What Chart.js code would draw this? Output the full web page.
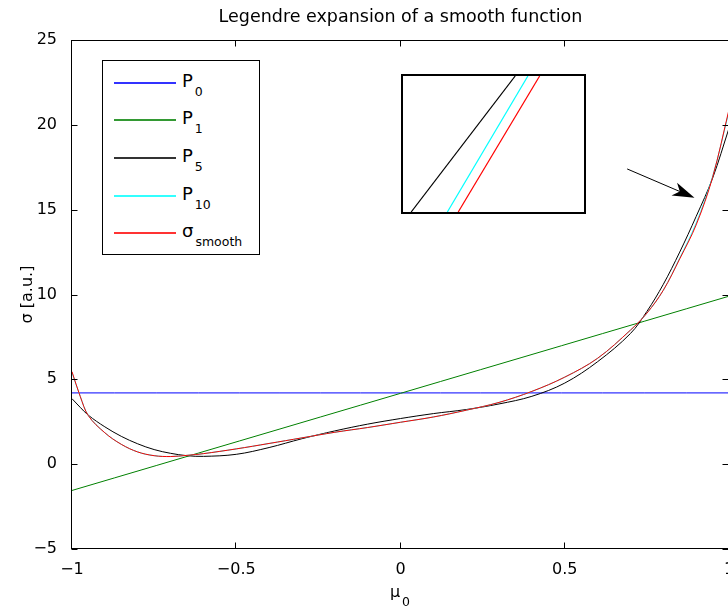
<!DOCTYPE html>
<html>
<head>
<meta charset="utf-8">
<script src="https://cdn.jsdelivr.net/npm/chart.js@4.4.1/dist/chart.umd.min.js"></script>
<style>
  html, body { margin:0; padding:0; background:#fff; }
  body { width:728px; height:612px; overflow:hidden; position:relative; font-family:"DejaVu Sans", sans-serif; color:#000; }
  #main { position:absolute; left:0; top:0; }
  #insetBox { position:absolute; left:401px; top:74px; width:181px; height:136px; border:2px solid #000; background:#fff; }
  #inset { display:block; }
  #legend { position:absolute; left:102px; top:60px; width:156px; height:193px; border:1px solid #000; background:#fff; }
  .row { position:absolute; left:0; width:100%; height:0; }
  .sample { position:absolute; left:11px; width:62px; top:-1px; height:2px; opacity:0.8; }
  .lab { position:absolute; left:79px; top:-11px; font-size:18px; line-height:18px; white-space:nowrap; }
  .s { font-size:12.5px; line-height:0; position:relative; top:9.3px; margin-left:2px; }
  #xlab { position:absolute; left:300px; width:200px; top:584px; text-align:center; font-size:16px; line-height:16px; white-space:nowrap; }
</style>
</head>
<body>
<canvas id="main" width="760" height="612"></canvas>
<div id="legend"></div>
<div id="insetBox"><canvas id="inset" width="181" height="136"></canvas></div>
<div id="xlab"></div>
<script>
// ---------- data ----------
const titleText = 'Legendre expansion of a smooth function';
const yAxisTitle = 'σ [a.u.]';
const xAxisBase = 'μ';
const xAxisSub = '0';

const xTickValues = [-1, -0.5, 0, 0.5, 1];
const xTickLabels = ['−1', '−0.5', '0', '0.5', '1'];
const yTickValues = [-5, 0, 5, 10, 15, 20, 25];
const yTickLabels = ['−5', '0', '5', '10', '15', '20', '25'];

const seriesBase = ['P', 'P', 'P', 'P', 'σ'];
const seriesSub = ['0', '1', '5', '10', 'smooth'];
const seriesColors = ['#0000ff', '#008000', '#000000', '#00ffff', '#ff0000'];

const muEnds = [-1, 1];
const p0Values = [4.2, 4.2];
const p1Values = [-1.55, 9.9];

const mu = [-1, -0.975, -0.95, -0.9, -0.85, -0.8, -0.75, -0.7, -0.65, -0.6, -0.5, -0.4, -0.3, -0.2, -0.1,
            0, 0.1, 0.2, 0.3, 0.4, 0.5, 0.6, 0.7, 0.75, 0.8, 0.85, 0.9, 0.95, 1];
const p5Values = [3.86, 3.35, 2.88, 2.2, 1.64, 1.2, 0.86, 0.64, 0.5, 0.46, 0.58, 0.98, 1.5, 1.96, 2.36,
                  2.69, 2.98, 3.22, 3.55, 4.0, 4.78, 6.04, 7.7, 9.0, 10.6, 12.5, 14.6, 16.85, 19.8];
const p10Values = [5.4, 4.0, 2.86, 1.85, 1.17, 0.72, 0.5, 0.45, 0.52, 0.62, 0.9, 1.22, 1.55, 1.88, 2.16,
                   2.47, 2.78, 3.18, 3.64, 4.29, 5.13, 6.24, 7.9, 8.9, 10.25, 12.15, 14.2, 16.95, 20.8];
const smoothValues = [5.45, 4.0, 2.85, 1.85, 1.17, 0.72, 0.5, 0.45, 0.52, 0.62, 0.9, 1.22, 1.55, 1.88, 2.16,
                      2.47, 2.78, 3.18, 3.64, 4.29, 5.13, 6.24, 7.9, 8.9, 10.25, 12.1, 14.1, 16.9, 20.9];

// magnified inset (relative coordinates inside the inset box)
const insetY = [0, 1];
const insetP5 = [0.045, 0.62];
const insetP10 = [0.245, 0.69];
const insetSmooth = [0.305, 0.755];

// arrow pointing to the magnified spot (data coordinates)
const arrowFrom = [0.69, 17.4];
const arrowTo = [0.895, 15.7];

// ---------- helpers ----------
const FONT = '"DejaVu Sans", sans-serif';
const toXY = (xs, ys) => xs.map((v, i) => ({ x: v, y: ys[i] }));
function labelFor(vals, labels, v) {
  const i = vals.findIndex(t => Math.abs(t - v) < 1e-9);
  return i < 0 ? '' : labels[i];
}

const framePlugin = {
  id: 'frame',
  afterDraw(chart) {
    const { ctx, chartArea: a, scales: { x, y } } = chart;
    ctx.save();
    ctx.strokeStyle = '#000';
    ctx.lineWidth = 1;
    const L = Math.round(a.left) - 0.5, R = Math.round(a.right) - 0.5;
    const T = Math.round(a.top) + 0.5, B = Math.round(a.bottom) - 0.5;
    ctx.strokeRect(L, T, R - L, B - T);
    const tl = 6;
    ctx.beginPath();
    x.ticks.forEach(t => {
      const px = Math.round(x.getPixelForValue(t.value)) - 0.5;
      ctx.moveTo(px, B); ctx.lineTo(px, B - tl);
      ctx.moveTo(px, T); ctx.lineTo(px, T + tl);
    });
    y.ticks.forEach(t => {
      const py = Math.round(y.getPixelForValue(t.value)) + 0.5;
      ctx.moveTo(L, py); ctx.lineTo(L + tl, py);
      ctx.moveTo(R, py); ctx.lineTo(R - tl, py);
    });
    ctx.stroke();

    // arrow
    const x0 = x.getPixelForValue(arrowFrom[0]), y0 = y.getPixelForValue(arrowFrom[1]);
    const x1 = x.getPixelForValue(arrowTo[0]), y1 = y.getPixelForValue(arrowTo[1]);
    const ang = Math.atan2(y1 - y0, x1 - x0);
    const ux = Math.cos(ang), uy = Math.sin(ang), nx = -uy, ny = ux;
    const HL = 22, HW = 7, HN = 16;
    ctx.beginPath();
    ctx.moveTo(x0, y0);
    ctx.lineTo(x1 - HN * ux, y1 - HN * uy);
    ctx.stroke();
    ctx.fillStyle = '#000';
    ctx.beginPath();
    ctx.moveTo(x1, y1);
    ctx.lineTo(x1 - HL * ux + HW * nx, y1 - HL * uy + HW * ny);
    ctx.lineTo(x1 - HN * ux, y1 - HN * uy);
    ctx.lineTo(x1 - HL * ux - HW * nx, y1 - HL * uy - HW * ny);
    ctx.closePath();
    ctx.fill();
    ctx.restore();
  }
};

// ---------- main chart ----------
new Chart(document.getElementById('main'), {
  type: 'line',
  data: {
    datasets: [
      { label: seriesBase[0] + seriesSub[0], data: toXY(muEnds, p0Values), borderColor: seriesColors[0], order: 4 },
      { label: seriesBase[1] + seriesSub[1], data: toXY(muEnds, p1Values), borderColor: seriesColors[1], order: 3 },
      { label: seriesBase[2] + seriesSub[2], data: toXY(mu, p5Values), borderColor: seriesColors[2], order: 2 },
      { label: seriesBase[3] + seriesSub[3], data: toXY(mu, p10Values), borderColor: seriesColors[3], order: 1 },
      { label: seriesBase[4] + seriesSub[4], data: toXY(mu, smoothValues), borderColor: seriesColors[4], order: 0 }
    ]
  },
  options: {
    responsive: false, animation: false, devicePixelRatio: 1, events: [],
    elements: {
      point: { radius: 0, hoverRadius: 0 },
      line: { borderWidth: 1, tension: 0.35, fill: false }
    },
    layout: { padding: { left: 0, right: 31, top: 0, bottom: 0 } },
    plugins: {
      legend: { display: false },
      tooltip: { enabled: false },
      title: {
        display: true, text: titleText, fullSize: false, color: '#000',
        font: { family: FONT, size: 17.5, weight: 'normal', lineHeight: 1.2 },
        padding: { top: 6.5, bottom: 12.5 }
      }
    },
    scales: {
      x: {
        type: 'linear', min: -1, max: 1,
        grid: { display: false }, border: { display: false },
        ticks: {
          stepSize: 0.5, color: '#000', font: { family: FONT, size: 16 }, padding: 3,
          maxRotation: 0, autoSkip: false,
          callback: v => labelFor(xTickValues, xTickLabels, v)
        },
        afterFit: s => { s.height = 63; }
      },
      y: {
        type: 'linear', min: -5, max: 25,
        grid: { display: false }, border: { display: false },
        ticks: {
          stepSize: 5, color: '#000', font: { family: FONT, size: 16 }, padding: 7,
          autoSkip: false,
          callback: v => labelFor(yTickValues, yTickLabels, v)
        },
        title: {
          display: true, text: yAxisTitle, color: '#000',
          font: { family: FONT, size: 16 }, padding: { top: 18, bottom: 0 }
        },
        afterFit: s => { s.width = 72; }
      }
    }
  },
  plugins: [framePlugin]
});

// ---------- inset chart ----------
new Chart(document.getElementById('inset'), {
  type: 'line',
  data: {
    datasets: [
      { data: toXY(insetP5, insetY), borderColor: seriesColors[2], order: 2 },
      { data: toXY(insetP10, insetY), borderColor: seriesColors[3], order: 1 },
      { data: toXY(insetSmooth, insetY), borderColor: seriesColors[4], order: 0 }
    ]
  },
  options: {
    responsive: false, animation: false, devicePixelRatio: 1, events: [],
    elements: { point: { radius: 0, hoverRadius: 0 }, line: { borderWidth: 1.2 } },
    layout: { padding: 0 },
    plugins: { legend: { display: false }, tooltip: { enabled: false }, title: { display: false } },
    scales: {
      x: { type: 'linear', min: 0, max: 1, display: false },
      y: { type: 'linear', min: 0, max: 1, display: false }
    }
  }
});

// ---------- legend & x label (text with subscripts) ----------
const legend = document.getElementById('legend');
seriesBase.forEach((b, i) => {
  const row = document.createElement('div');
  row.className = 'row';
  row.style.top = Math.round(21.7 + i * 37.6) + 'px';
  const sample = document.createElement('div');
  sample.className = 'sample';
  sample.style.backgroundColor = seriesColors[i];
  const lab = document.createElement('div');
  lab.className = 'lab';
  const base = document.createElement('span');
  base.textContent = b;
  const sub = document.createElement('span');
  sub.className = 's';
  sub.textContent = seriesSub[i];
  lab.appendChild(base); lab.appendChild(sub);
  row.appendChild(sample); row.appendChild(lab);
  legend.appendChild(row);
});
const xlab = document.getElementById('xlab');
const xb = document.createElement('span'); xb.textContent = xAxisBase;
const xs = document.createElement('span'); xs.className = 's'; xs.textContent = xAxisSub;
xlab.appendChild(xb); xlab.appendChild(xs);
</script>
</body>
</html>
